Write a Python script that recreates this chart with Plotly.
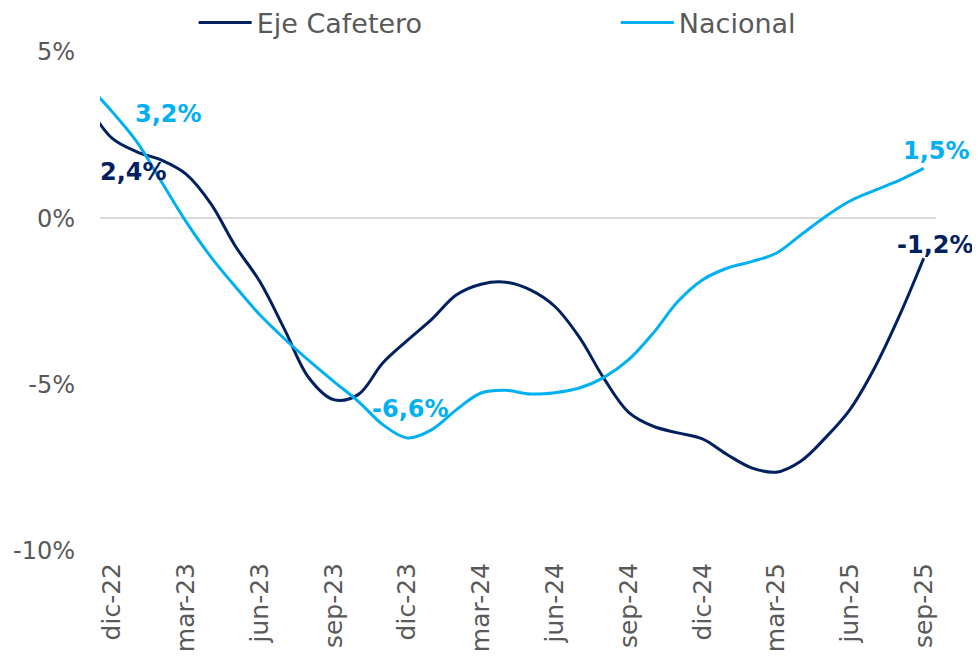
import plotly.graph_objects as go

# Monthly categories (nov-22 is only partly visible at the left edge)
meses = ["nov-22", "dic-22",
         "ene-23", "feb-23", "mar-23", "abr-23", "may-23", "jun-23",
         "jul-23", "ago-23", "sep-23", "oct-23", "nov-23", "dic-23",
         "ene-24", "feb-24", "mar-24", "abr-24", "may-24", "jun-24",
         "jul-24", "ago-24", "sep-24", "oct-24", "nov-24", "dic-24",
         "ene-25", "feb-25", "mar-25", "abr-25", "may-25", "jun-25",
         "jul-25", "ago-25", "sep-25"]

eje_cafetero = [3.4, 2.4,
                2.0, 1.75, 1.33, 0.45, -0.83, -1.9,
                -3.33, -4.8, -5.45, -5.3, -4.35, -3.67,
                -3.03, -2.3, -1.98, -1.92, -2.15, -2.65,
                -3.58, -4.82, -5.83, -6.25, -6.45, -6.63,
                -7.1, -7.5, -7.63, -7.3, -6.6, -5.75,
                -4.5, -2.95, -1.2]

nacional = [4.0, 3.2,
            2.3, 1.1, -0.1, -1.15, -2.05, -2.9,
            -3.62, -4.28, -4.9, -5.5, -6.2, -6.6,
            -6.35, -5.75, -5.25, -5.17, -5.28, -5.24,
            -5.1, -4.78, -4.25, -3.45, -2.5, -1.85,
            -1.5, -1.3, -1.05, -0.5, 0.05, 0.52,
            0.84, 1.14, 1.5]

tick_labels = ["dic-22", "mar-23", "jun-23", "sep-23", "dic-23", "mar-24",
               "jun-24", "sep-24", "dic-24", "mar-25", "jun-25", "sep-25"]

y_ticks = [-10, -5, 0, 5]
y_tick_text = ["-10%", "-5%", "0%", "5%"]

# labelled points: (month, value, colour, xshift, yshift)
etiquetas = [
    ("dic-22", 3.2, "#00B0F0", 56, -2),
    ("dic-22", 2.4, "#002060", 21, -34),
    ("dic-23", -6.6, "#00B0F0", 3, 29),
    ("sep-25", 1.5, "#00B0F0", 13, 17),
    ("sep-25", -1.2, "#002060", 12, 13),
]

FONT = "Century Gothic, DejaVu Sans, sans-serif"
GRAY = "#595959"

fig = go.Figure()
fig.add_trace(go.Scatter(x=meses, y=eje_cafetero, name="Eje Cafetero",
                         mode="lines", legend="legend",
                         line=dict(color="#002060", width=3,
                                   shape="spline", smoothing=1.0)))
fig.add_trace(go.Scatter(x=meses, y=nacional, name="Nacional",
                         mode="lines", legend="legend2",
                         line=dict(color="#00B0F0", width=3,
                                   shape="spline", smoothing=1.0)))

for mes, val, col, xs, ys in etiquetas:
    txt = f"{val:.1f}".replace(".", ",") + "%"
    fig.add_annotation(x=mes, y=val, text=f"<b>{txt}</b>", showarrow=False,
                       xshift=xs, yshift=ys,
                       font=dict(family=FONT, size=24, color=col))

leg_common = dict(orientation="h", yanchor="middle", xanchor="left", y=1.058,
                  font=dict(size=27, color=GRAY, family=FONT),
                  itemwidth=53, bgcolor="rgba(0,0,0,0)")

fig.update_layout(
    width=980, height=660,
    margin=dict(l=92, r=52, t=44, b=117, autoexpand=False),
    paper_bgcolor="white", plot_bgcolor="white",
    font=dict(family=FONT, color=GRAY),
    showlegend=True,
    legend=dict(x=0.112, **leg_common),
    legend2=dict(x=0.617, **leg_common),
    xaxis=dict(type="category", range=[0.5, 34.5],
               tickmode="array", tickvals=tick_labels, ticktext=tick_labels,
               tickangle=-90, tickfont=dict(size=25, color=GRAY, family=FONT),
               showgrid=False, showline=False, zeroline=False,
               ticks="", ticklabelstandoff=6),
    yaxis=dict(range=[-10, 5], tickmode="array", tickvals=y_ticks, ticktext=y_tick_text,
               tickfont=dict(size=24, color=GRAY, family=FONT),
               showgrid=False, showline=False,
               zeroline=True, zerolinecolor="#D9D9D9", zerolinewidth=1.5,
               ticks="", ticklabelstandoff=24),
)

fig.write_html("out.html")
